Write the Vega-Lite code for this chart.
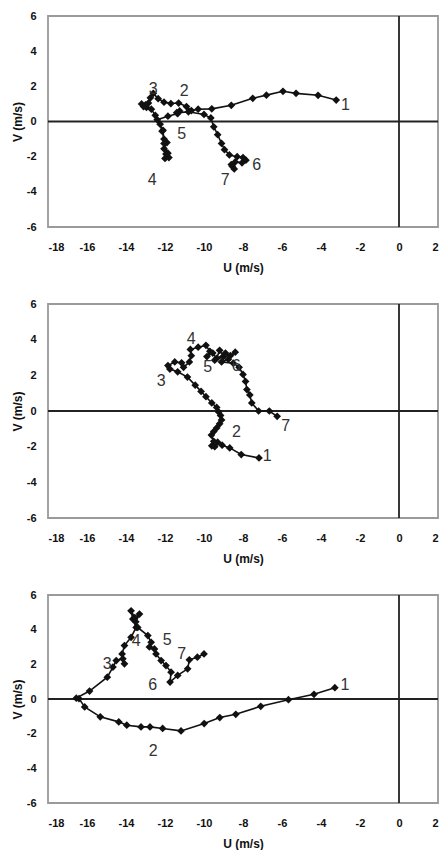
{
  "$schema": "https://vega.github.io/schema/vega-lite/v6.json",
  "padding": {"left": 10, "top": 9, "right": 5, "bottom": 0},
  "spacing": 23,
  "config": {
    "font": "Liberation Sans",
    "view": {"stroke": "#9a9a9a", "strokeWidth": 1.8},
    "axis": {
      "grid": false, "domain": false, "ticks": false,
      "labelExpr": "'' + datum.value",
      "labelFont": "Liberation Sans", "labelFontWeight": "bold", "labelFontSize": 11, "labelColor": "#111",
      "titleFont": "Liberation Sans", "titleFontWeight": "bold", "titleFontSize": 12, "titleColor": "#111"
    },
    "axisX": {"labelPadding": 14, "titlePadding": 10, "values": [-18,-16,-14,-12,-10,-8,-6,-4,-2,0,2]},
    "axisY": {"labelPadding": 12, "titlePadding": 2, "values": [-6,-4,-2,0,2,4,6]}
  },
  "datasets": {
    "z": [{"z": 0}],
    "p1": [
      {"i":1,"u":-3.22,"v":1.22},{"i":2,"u":-4.15,"v":1.49},{"i":3,"u":-5.28,"v":1.6},{"i":4,"u":-5.95,"v":1.72},
      {"i":5,"u":-6.8,"v":1.5},{"i":6,"u":-7.5,"v":1.32},{"i":7,"u":-8.6,"v":0.92},{"i":8,"u":-9.6,"v":0.72},
      {"i":9,"u":-10.3,"v":0.7},{"i":10,"u":-10.65,"v":0.62},{"i":11,"u":-10.9,"v":0.85},{"i":12,"u":-11.3,"v":1.05},
      {"i":13,"u":-11.7,"v":1.02},{"i":14,"u":-12.05,"v":1.1},{"i":15,"u":-12.35,"v":1.3},{"i":16,"u":-12.6,"v":1.6},
      {"i":17,"u":-12.75,"v":1.35},{"i":18,"u":-12.85,"v":1.05},{"i":19,"u":-13.1,"v":0.85},{"i":20,"u":-13.2,"v":1.0},
      {"i":21,"u":-12.95,"v":0.8},{"i":22,"u":-13.0,"v":0.95},{"i":23,"u":-12.7,"v":0.7},{"i":24,"u":-12.5,"v":0.35},
      {"i":25,"u":-12.25,"v":-0.15},{"i":26,"u":-12.15,"v":-0.55},{"i":27,"u":-12.05,"v":-1.0},{"i":28,"u":-11.9,"v":-1.2},
      {"i":29,"u":-12.05,"v":-1.55},{"i":30,"u":-11.95,"v":-1.85},{"i":31,"u":-11.8,"v":-2.05},{"i":32,"u":-12.0,"v":-2.1},
      {"i":33,"u":-11.85,"v":-1.8},{"i":34,"u":-12.05,"v":-1.25},{"i":35,"u":-12.1,"v":-0.5},{"i":36,"u":-12.4,"v":0.1},
      {"i":37,"u":-11.85,"v":0.3},{"i":38,"u":-11.35,"v":0.45},{"i":39,"u":-11.25,"v":0.6},{"i":40,"u":-11.4,"v":0.5},
      {"i":41,"u":-10.8,"v":0.55},{"i":42,"u":-10.0,"v":0.4},{"i":43,"u":-9.65,"v":0.2},{"i":44,"u":-9.5,"v":-0.3},
      {"i":45,"u":-9.3,"v":-0.75},{"i":46,"u":-9.1,"v":-1.25},{"i":47,"u":-8.95,"v":-1.6},{"i":48,"u":-8.7,"v":-1.9},
      {"i":49,"u":-8.3,"v":-2.0},{"i":50,"u":-8.0,"v":-2.05},{"i":51,"u":-7.85,"v":-2.2},{"i":52,"u":-8.05,"v":-2.35},
      {"i":53,"u":-8.4,"v":-2.3},{"i":54,"u":-8.55,"v":-2.55},{"i":55,"u":-8.45,"v":-2.7},{"i":56,"u":-8.6,"v":-2.45}
    ],
    "l1": [
      {"u":-2.74,"v":0.92,"t":"1"},{"u":-11.02,"v":1.73,"t":"2"},{"u":-12.61,"v":1.87,"t":"3"},{"u":-12.65,"v":-3.35,"t":"4"},
      {"u":-11.14,"v":-0.73,"t":"5"},{"u":-7.3,"v":-2.49,"t":"6"},{"u":-8.91,"v":-3.31,"t":"7"}
    ],
    "p2": [
      {"i":1,"u":-7.18,"v":-2.63},{"i":2,"u":-8.09,"v":-2.44},{"i":3,"u":-8.68,"v":-2.07},{"i":4,"u":-9.07,"v":-1.92},
      {"i":5,"u":-9.3,"v":-1.75},{"i":6,"u":-9.45,"v":-2.0},{"i":7,"u":-9.6,"v":-1.95},{"i":8,"u":-9.5,"v":-1.7},
      {"i":9,"u":-9.62,"v":-1.35},{"i":10,"u":-9.5,"v":-1.15},{"i":11,"u":-9.35,"v":-0.95},{"i":12,"u":-9.2,"v":-0.72},
      {"i":13,"u":-9.1,"v":-0.5},{"i":14,"u":-9.15,"v":-0.25},{"i":15,"u":-9.25,"v":-0.05},{"i":16,"u":-9.35,"v":0.2},
      {"i":17,"u":-9.6,"v":0.45},{"i":18,"u":-9.9,"v":0.8},{"i":19,"u":-10.15,"v":1.1},{"i":20,"u":-10.45,"v":1.45},
      {"i":21,"u":-10.85,"v":1.9},{"i":22,"u":-11.35,"v":2.2},{"i":23,"u":-11.75,"v":2.35},{"i":24,"u":-11.85,"v":2.55},
      {"i":25,"u":-11.5,"v":2.75},{"i":26,"u":-11.15,"v":2.7},{"i":27,"u":-11.05,"v":2.45},{"i":28,"u":-10.75,"v":2.75},
      {"i":29,"u":-10.65,"v":3.1},{"i":30,"u":-10.7,"v":3.45},{"i":31,"u":-10.3,"v":3.58},{"i":32,"u":-9.9,"v":3.68},
      {"i":33,"u":-9.7,"v":3.35},{"i":34,"u":-9.85,"v":3.05},{"i":35,"u":-9.55,"v":3.25},{"i":36,"u":-9.35,"v":2.95},
      {"i":37,"u":-9.2,"v":3.4},{"i":38,"u":-9.0,"v":3.05},{"i":39,"u":-9.45,"v":2.85},{"i":40,"u":-8.9,"v":3.25},
      {"i":41,"u":-8.65,"v":3.1},{"i":42,"u":-8.4,"v":3.3},{"i":43,"u":-8.75,"v":2.9},{"i":44,"u":-9.1,"v":2.75},
      {"i":45,"u":-8.5,"v":2.68},{"i":46,"u":-8.2,"v":2.45},{"i":47,"u":-8.0,"v":2.05},{"i":48,"u":-7.87,"v":1.66},
      {"i":49,"u":-7.8,"v":1.2},{"i":50,"u":-7.65,"v":0.9},{"i":51,"u":-7.55,"v":0.45},{"i":52,"u":-7.2,"v":0.0},
      {"i":53,"u":-6.65,"v":0.0},{"i":54,"u":-6.25,"v":-0.3}
    ],
    "l2": [
      {"u":-6.76,"v":-2.5,"t":"1"},{"u":-8.34,"v":-1.19,"t":"2"},{"u":-12.2,"v":1.66,"t":"3"},{"u":-10.65,"v":4.02,"t":"4"},
      {"u":-9.81,"v":2.46,"t":"5"},{"u":-8.35,"v":2.53,"t":"6"},{"u":-5.81,"v":-0.86,"t":"7"}
    ],
    "p3": [
      {"i":1,"u":-3.29,"v":0.65},{"i":2,"u":-4.36,"v":0.27},{"i":3,"u":-5.67,"v":-0.04},{"i":4,"u":-7.09,"v":-0.42},
      {"i":5,"u":-8.37,"v":-0.88},{"i":6,"u":-9.19,"v":-1.07},{"i":7,"u":-9.99,"v":-1.42},{"i":8,"u":-11.18,"v":-1.84},
      {"i":9,"u":-12.12,"v":-1.7},{"i":10,"u":-12.77,"v":-1.61},{"i":11,"u":-13.23,"v":-1.61},{"i":12,"u":-13.96,"v":-1.51},
      {"i":13,"u":-14.37,"v":-1.32},{"i":14,"u":-15.32,"v":-1.03},{"i":15,"u":-16.12,"v":-0.46},{"i":16,"u":-16.41,"v":0.02},
      {"i":17,"u":-16.55,"v":0.05},{"i":18,"u":-15.87,"v":0.46},{"i":19,"u":-14.96,"v":1.26},{"i":20,"u":-14.67,"v":1.84},
      {"i":21,"u":-14.5,"v":2.22},{"i":22,"u":-14.16,"v":2.32},{"i":23,"u":-14.08,"v":2.03},{"i":24,"u":-14.2,"v":2.6},
      {"i":25,"u":-14.08,"v":3.08},{"i":26,"u":-13.74,"v":3.56},{"i":27,"u":-13.48,"v":4.13},{"i":28,"u":-13.65,"v":4.61},
      {"i":29,"u":-13.74,"v":5.09},{"i":30,"u":-13.55,"v":4.7},{"i":31,"u":-13.31,"v":4.9},{"i":32,"u":-13.5,"v":4.45},
      {"i":33,"u":-13.4,"v":4.13},{"i":34,"u":-12.88,"v":3.66},{"i":35,"u":-12.71,"v":3.27},{"i":36,"u":-12.8,"v":3.0},
      {"i":37,"u":-12.54,"v":2.89},{"i":38,"u":-12.46,"v":2.6},{"i":39,"u":-12.2,"v":2.22},{"i":40,"u":-11.95,"v":1.93},
      {"i":41,"u":-11.69,"v":1.55},{"i":42,"u":-11.74,"v":0.98},{"i":43,"u":-11.35,"v":1.36},{"i":44,"u":-10.84,"v":1.74},
      {"i":45,"u":-10.75,"v":2.26},{"i":46,"u":-10.34,"v":2.41},{"i":47,"u":-10.0,"v":2.6}
    ],
    "l3": [
      {"u":-2.77,"v":0.78,"t":"1"},{"u":-12.6,"v":-3.0,"t":"2"},{"u":-14.96,"v":2.03,"t":"3"},{"u":-13.48,"v":3.37,"t":"4"},
      {"u":-11.89,"v":3.43,"t":"5"},{"u":-12.63,"v":0.82,"t":"6"},{"u":-11.14,"v":2.6,"t":"7"}
    ]
  },
  "vconcat": [
    {
      "width": 390, "height": 211,
      "layer": [
        {"data": {"name": "z"}, "mark": {"type": "rule", "color": "#222", "strokeWidth": 1.8}, "encoding": {"x": {"field": "z", "type": "quantitative", "scale": {"domain": [-18, 2], "nice": false}, "title": "U (m/s)"}}},
        {"data": {"name": "z"}, "mark": {"type": "rule", "color": "#222", "strokeWidth": 1.8}, "encoding": {"y": {"field": "z", "type": "quantitative", "scale": {"domain": [-6, 6], "nice": false}, "title": "V (m/s)"}}},
        {"data": {"name": "p1"}, "mark": {"type": "line", "color": "#111", "strokeWidth": 1.6},
         "encoding": {"x": {"field": "u", "type": "quantitative", "title": "U (m/s)"}, "y": {"field": "v", "type": "quantitative", "title": "V (m/s)"}, "order": {"field": "i"}}},
        {"data": {"name": "p1"}, "mark": {"type": "point", "shape": "diamond", "filled": true, "color": "#111", "size": 60, "opacity": 1},
         "encoding": {"x": {"field": "u", "type": "quantitative", "title": "U (m/s)"}, "y": {"field": "v", "type": "quantitative", "title": "V (m/s)"}}},
        {"data": {"name": "l1"}, "mark": {"type": "text", "fontSize": 16, "color": "#333", "font": "Liberation Sans"},
         "encoding": {"x": {"field": "u", "type": "quantitative", "title": "U (m/s)"}, "y": {"field": "v", "type": "quantitative", "title": "V (m/s)"}, "text": {"field": "t"}}}
      ]
    },
    {
      "width": 390, "height": 214,
      "layer": [
        {"data": {"name": "z"}, "mark": {"type": "rule", "color": "#222", "strokeWidth": 1.8}, "encoding": {"x": {"field": "z", "type": "quantitative", "scale": {"domain": [-18, 2], "nice": false}, "title": "U (m/s)"}}},
        {"data": {"name": "z"}, "mark": {"type": "rule", "color": "#222", "strokeWidth": 1.8}, "encoding": {"y": {"field": "z", "type": "quantitative", "scale": {"domain": [-6, 6], "nice": false}, "title": "V (m/s)"}}},
        {"data": {"name": "p2"}, "mark": {"type": "line", "color": "#111", "strokeWidth": 1.6},
         "encoding": {"x": {"field": "u", "type": "quantitative", "title": "U (m/s)"}, "y": {"field": "v", "type": "quantitative", "title": "V (m/s)"}, "order": {"field": "i"}}},
        {"data": {"name": "p2"}, "mark": {"type": "point", "shape": "diamond", "filled": true, "color": "#111", "size": 60, "opacity": 1},
         "encoding": {"x": {"field": "u", "type": "quantitative", "title": "U (m/s)"}, "y": {"field": "v", "type": "quantitative", "title": "V (m/s)"}}},
        {"data": {"name": "l2"}, "mark": {"type": "text", "fontSize": 16, "color": "#333", "font": "Liberation Sans"},
         "encoding": {"x": {"field": "u", "type": "quantitative", "title": "U (m/s)"}, "y": {"field": "v", "type": "quantitative", "title": "V (m/s)"}, "text": {"field": "t"}}}
      ]
    },
    {
      "width": 390, "height": 208,
      "layer": [
        {"data": {"name": "z"}, "mark": {"type": "rule", "color": "#222", "strokeWidth": 1.8}, "encoding": {"x": {"field": "z", "type": "quantitative", "scale": {"domain": [-18, 2], "nice": false}, "title": "U (m/s)"}}},
        {"data": {"name": "z"}, "mark": {"type": "rule", "color": "#222", "strokeWidth": 1.8}, "encoding": {"y": {"field": "z", "type": "quantitative", "scale": {"domain": [-6, 6], "nice": false}, "title": "V (m/s)"}}},
        {"data": {"name": "p3"}, "mark": {"type": "line", "color": "#111", "strokeWidth": 1.6},
         "encoding": {"x": {"field": "u", "type": "quantitative", "title": "U (m/s)"}, "y": {"field": "v", "type": "quantitative", "title": "V (m/s)"}, "order": {"field": "i"}}},
        {"data": {"name": "p3"}, "mark": {"type": "point", "shape": "diamond", "filled": true, "color": "#111", "size": 60, "opacity": 1},
         "encoding": {"x": {"field": "u", "type": "quantitative", "title": "U (m/s)"}, "y": {"field": "v", "type": "quantitative", "title": "V (m/s)"}}},
        {"data": {"name": "l3"}, "mark": {"type": "text", "fontSize": 16, "color": "#333", "font": "Liberation Sans"},
         "encoding": {"x": {"field": "u", "type": "quantitative", "title": "U (m/s)"}, "y": {"field": "v", "type": "quantitative", "title": "V (m/s)"}, "text": {"field": "t"}}}
      ]
    }
  ]
}
